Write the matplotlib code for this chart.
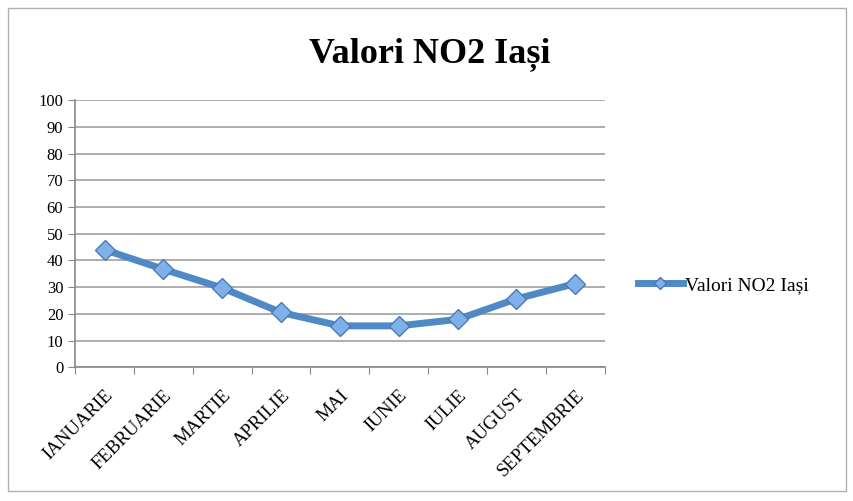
import matplotlib
matplotlib.use("Agg")
from matplotlib import pyplot as plt
from matplotlib.patches import Rectangle

luni = ["IANUARIE", "FEBRUARIE", "MARTIE", "APRILIE", "MAI", "IUNIE",
        "IULIE", "AUGUST", "SEPTEMBRIE"]
valoriNO2 = [44, 36.7, 29.7, 20.5, 15.5, 15.5, 17.9, 25.6, 31.3]
eticheta = "Valori NO2 Iași"

plt.rcParams['font.family'] = ['Liberation Serif', 'DejaVu Serif']

miFigura = plt.figure(figsize=(8.54, 5.01), dpi=100)
miFigura.patches.append(Rectangle((0.009, 0.02), 0.982, 0.965, transform=miFigura.transFigure,
                                  fill=False, edgecolor="#b0b0b0", linewidth=1))
ax = miFigura.add_axes([0.088, 0.267, 0.62, 0.533])

pozitii = list(range(len(luni)))
ax.plot(pozitii, valoriNO2, color="#4f89c6", linewidth=5, marker="D", markersize=10,
        markerfacecolor="#7fb0ea", markeredgecolor="#4a7ab5", markeredgewidth=1,
        label=eticheta, zorder=3)

ax.set_xlim(-0.5, len(luni) - 0.5)
ax.set_ylim(0, 100)
ax.set_yticks(range(0, 101, 10))
ax.set_xticks([p - 0.5 for p in range(len(luni) + 1)])
ax.set_xticklabels([])
ax.set_xticks(pozitii, minor=True)
ax.set_xticklabels(luni, minor=True, rotation=45, ha="right", va="top",
                   rotation_mode="anchor", fontsize=13.5)
ax.tick_params(axis="x", which="minor", length=0, pad=14)
ax.tick_params(axis="x", which="major", length=5, color="#888888")
ax.tick_params(axis="y", length=5, color="#888888", labelsize=12)
ax.grid(axis="y", color="#a0a0a0", linewidth=1.2)
ax.set_axisbelow(True)
for lado in ["top", "right"]:
    ax.spines[lado].set_visible(False)
for lado in ["left", "bottom"]:
    ax.spines[lado].set_color("#888888")
    ax.spines[lado].set_linewidth(1.2)

miFigura.text(0.503, 0.893, eticheta, ha="center", va="center", fontsize=26, fontweight="bold")
ax.legend(loc="center left", bbox_to_anchor=(1.03, 0.307), frameon=False, fontsize=14,
          handlelength=2.3, handletextpad=0.1, markerscale=0.65)

miFigura.savefig("out.png", dpi=100)
